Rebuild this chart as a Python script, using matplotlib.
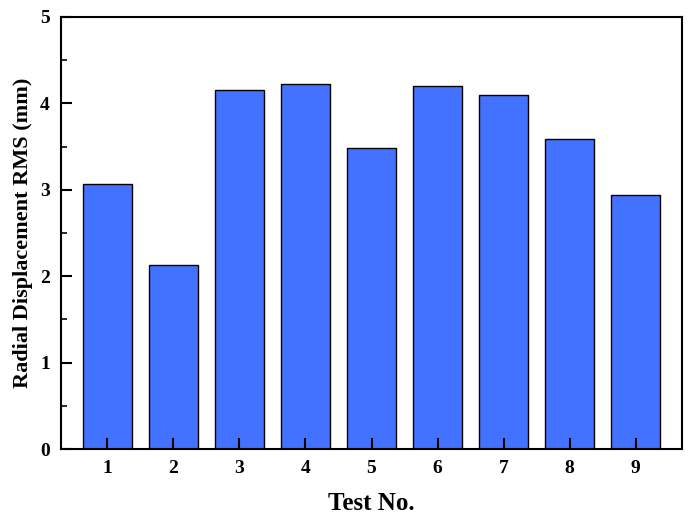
import matplotlib
matplotlib.use('Agg')
import matplotlib.pyplot as plt
from matplotlib.ticker import MultipleLocator

plt.rcParams['font.family'] = ['Liberation Serif', 'DejaVu Serif']
plt.rcParams['font.weight'] = 'bold'

tests = [1, 2, 3, 4, 5, 6, 7, 8, 9]
rms = [3.07, 2.13, 4.16, 4.22, 3.48, 4.20, 4.10, 3.59, 2.94]

BAR = '#4272FF'

fig = plt.figure(figsize=(6.92, 5.18), dpi=100)
ax = fig.add_axes([0.0882, 0.1332, 0.8973, 0.834])

ax.bar(tests, rms, width=0.75, color=BAR, edgecolor='black', linewidth=1.0)

ax.set_xlim(0.3, 9.7)
ax.set_ylim(0, 5)
ax.set_xticks(tests)
ax.yaxis.set_major_locator(MultipleLocator(1))
ax.yaxis.set_minor_locator(MultipleLocator(0.5))

ax.tick_params(axis='both', which='major', direction='in', length=8, width=1.5,
               labelsize=14, top=False, right=False, pad=8)
ax.tick_params(axis='y', which='minor', direction='in', length=4, width=1.2, right=False)
for lbl in ax.get_xticklabels() + ax.get_yticklabels():
    lbl.set_fontweight('bold')

for s in ax.spines.values():
    s.set_linewidth(1.5)

ax.set_xlabel('Test No.', fontsize=18, fontweight='bold', labelpad=11)
ax.set_ylabel('Radial Displacement RMS (mm)', fontsize=16, fontweight='bold', labelpad=5)

fig.savefig('out.png', dpi=100)
